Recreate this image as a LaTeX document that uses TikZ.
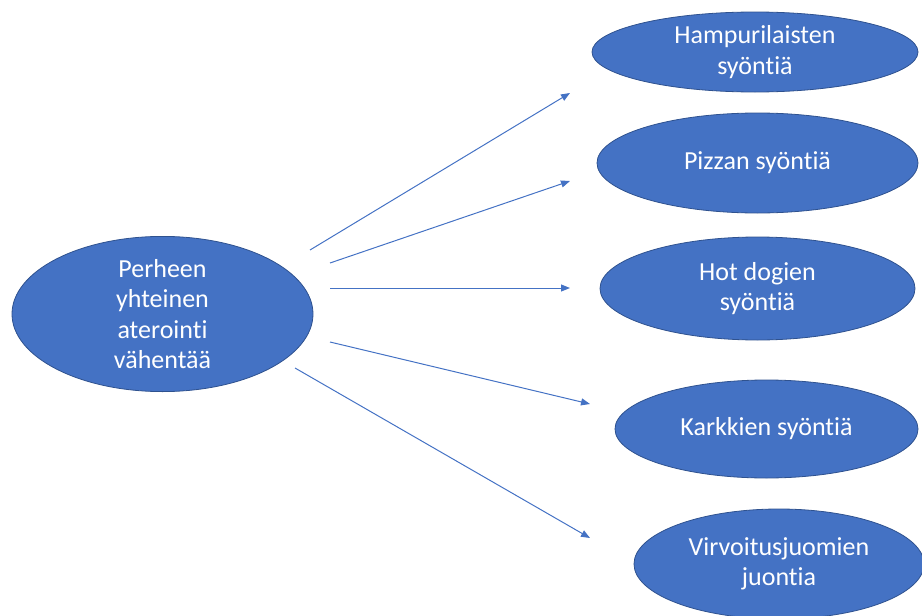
\documentclass[tikz,border=0pt]{standalone}
\usepackage{fontspec}
\setmainfont[Ligatures=NoCommon]{Carlito}
\usetikzlibrary{shapes.geometric,arrows.meta}

\definecolor{blob}{HTML}{4472C4}
\definecolor{blobedge}{HTML}{2F528F}

\tikzset{
  blob/.style={ellipse, fill=blob, draw=blobedge, line width=0.8pt, inner sep=0pt,
    text=white, align=center, font=\fontsize{26}{30.5}\selectfont},
  link/.style={draw=blob, line width=1pt, -{Triangle[length=9pt,width=7pt]}}
}

\begin{document}
\begin{tikzpicture}[x=1pt,y=-1pt]

            \useasboundingbox (0,0) rectangle (922,616);

            % Nodes

            \node[blob, minimum width=301pt, minimum height=138pt] (perheen) at (162.5,314) {Perheen\\yhteinen\\aterointi\\vähentää};
            \node[blob, minimum width=326pt, minimum height=80pt] (hamp) at (755,52) {Hampurilaisten\\syöntiä};
            \node[blob, minimum width=321pt, minimum height=100pt] (pizza) at (757.5,163) {Pizzan syöntiä};
            \node[blob, minimum width=315pt, minimum height=103pt] (hotdog) at (757.5,288.5) {Hot dogien\\syöntiä};
            \node[blob, minimum width=303pt, minimum height=98pt] (karkki) at (766.5,429) {Karkkien syöntiä};
            \node[blob, minimum width=290pt, minimum height=110pt] (virvo) at (779,564) {Virvoitusjuomien\\juontia};

            % Arrow ends

            \coordinate (s1) at (310,250);
            \coordinate (s2) at (330,263);
            \coordinate (s3) at (330,288);
            \coordinate (s4) at (330,342);
            \coordinate (s5) at (295,368);
            \coordinate (e1) at (570,93);
            \coordinate (e2) at (570,181);
            \coordinate (e3) at (570,288);
            \coordinate (e4) at (590,404);
            \coordinate (e5) at (590,538);

            % Edges

            \draw[link] (s1) -- (e1);
            \draw[link] (s2) -- (e2);
            \draw[link] (s3) -- (e3);
            \draw[link] (s4) -- (e4);
            \draw[link] (s5) -- (e5);

\end{tikzpicture}
\end{document}
